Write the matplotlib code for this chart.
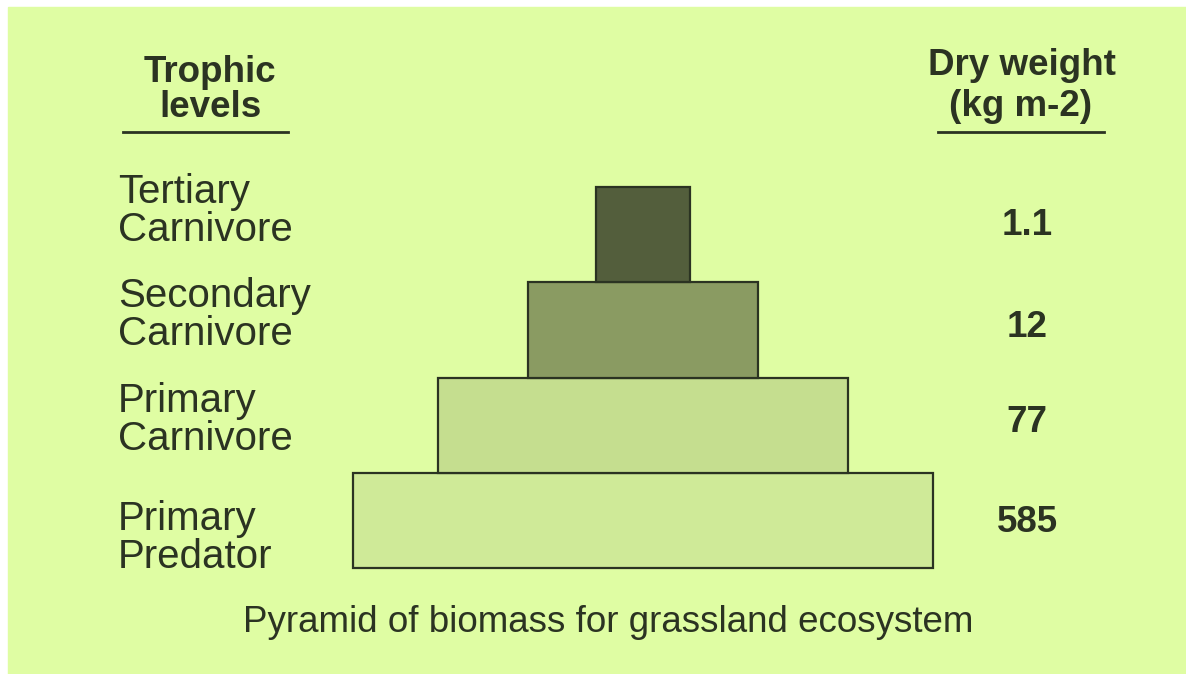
import matplotlib.pyplot as plt
from matplotlib.patches import Rectangle
from matplotlib.lines import Line2D

plt.rcParams['font.family'] = ['Liberation Sans', 'DejaVu Sans']

# data, bottom step first
levels = [("Primary", "Predator"), ("Primary", "Carnivore"),
          ("Secondary", "Carnivore"), ("Tertiary", "Carnivore")]
dry_weight = ["585", "77", "12", "1.1"]
bar_widths = [580, 410, 230, 94]   # drawn width of each step (schematic, not to scale)
bar_colors = ["#cfea98", "#c5de8f", "#8a9b62", "#535e3c"]

ink = "#2b3322"
bg = "#dffda3"

W, H = 1186, 674
fig = plt.figure(figsize=(W / 100, H / 100), dpi=100)
fig.patch.set_facecolor("white")
fig.add_artist(Rectangle((8 / W, 0), 1 - 8 / W, (H - 7) / H,
                         transform=fig.transFigure, color=bg, zorder=-5))


def px(x, y):
    # pixel position (from top left) -> figure fraction
    return x / W, 1 - y / H


# pyramid
ax = fig.add_axes([343 / W, (H - 568) / H, 600 / W, 381 / H])
bars = ax.barh(range(len(bar_widths)), bar_widths, height=1.0,
               left=[-w / 2 for w in bar_widths], color=bar_colors,
               edgecolor=ink, linewidth=1.6)
for b in bars:
    b.set_clip_on(False)
ax.set_xlim(-300, 300)
ax.set_ylim(-0.5, 3.5)
ax.axis("off")

# headers
fig.text(*px(210, 82), "Trophic", ha="center", va="baseline",
         fontsize=26.5, fontweight="bold", color=ink)
fig.text(*px(210, 117), "levels", ha="center", va="baseline",
         fontsize=26.5, fontweight="bold", color=ink)
fig.text(*px(1022, 75), "Dry weight", ha="center", va="baseline",
         fontsize=26.5, fontweight="bold", color=ink)
fig.text(*px(1021, 116), "(kg m-2)", ha="center", va="baseline",
         fontsize=26.5, fontweight="bold", color=ink)
for x0, x1 in [(123, 288), (938, 1104)]:
    fig.add_artist(Line2D([x0 / W, x1 / W], [1 - 132 / H] * 2,
                          transform=fig.transFigure, color=ink, lw=2))

# level names on the left, values on the right
label_base = [530, 412, 307, 203]
value_base = [532, 432, 337, 235]
for (l1, l2), yb in zip(levels, label_base):
    fig.text(*px(118, yb), l1, ha="left", va="baseline", fontsize=29, color=ink)
    fig.text(*px(118, yb + 38), l2, ha="left", va="baseline", fontsize=29, color=ink)
for v, yb in zip(dry_weight, value_base):
    fig.text(*px(1027, yb), v, ha="center", va="baseline",
             fontsize=26.5, fontweight="bold", color=ink)

fig.text(*px(608, 632), "Pyramid of biomass for grassland ecosystem",
         ha="center", va="baseline", fontsize=26.5, color=ink)

fig.savefig("out.png", dpi=100, facecolor=fig.get_facecolor())
